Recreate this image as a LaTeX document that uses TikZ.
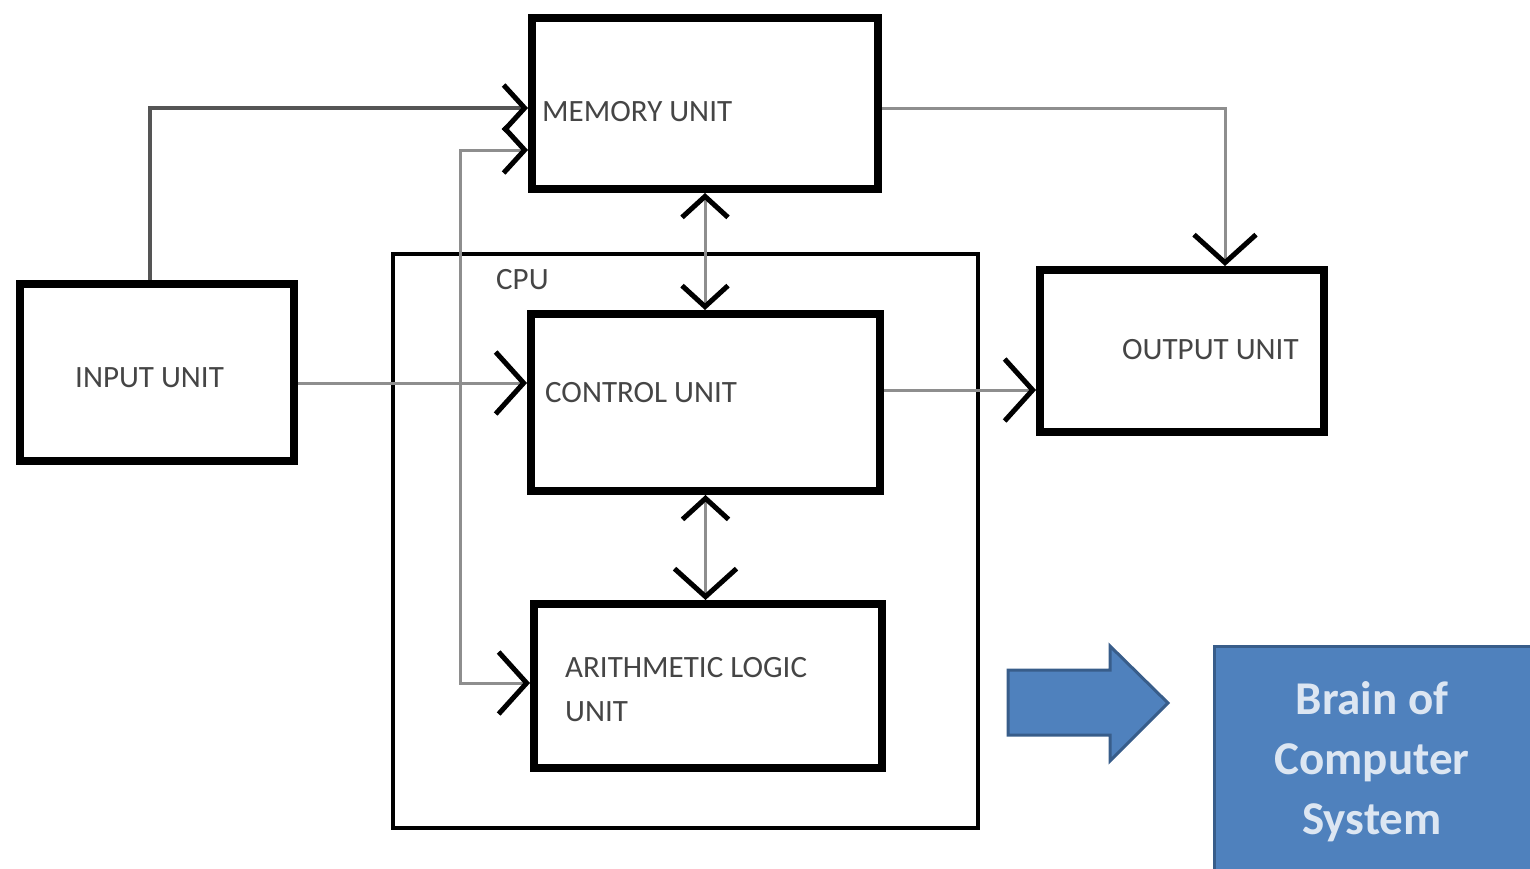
\documentclass[tikz,border=0pt]{standalone}
\usepackage{fontspec}
\setmainfont{Carlito}
\usetikzlibrary{arrows.meta}
\definecolor{lin}{HTML}{8E8E8E}
\definecolor{dlin}{HTML}{555555}
\definecolor{txt}{HTML}{454545}
\definecolor{bfill}{HTML}{4F81BD}
\definecolor{bdraw}{HTML}{385D8A}
\definecolor{btxt}{HTML}{DCE6F2}
\tikzset{
  unitbox/.style={draw=black, line width=8pt, minimum width=#1, inner sep=0pt},
  lbl/.style={anchor=west, inner sep=0pt, text=txt, font=\fontsize{31}{36}\selectfont},
  tip/.tip={Straight Barb[length=28pt, width=62pt, line width=5pt, color=black]},
  smalltip/.tip={Straight Barb[length=21pt, width=46pt, line width=5pt, color=black]},
  conn/.style={draw=lin, line width=3pt},
  dconn/.style={draw=dlin, line width=4pt},
}
\begin{document}
\begin{tikzpicture}[x=1pt, y=-1pt]
\useasboundingbox (0,0) rectangle (1530,868);
\clip (0,0) rectangle (1530,868);
% boxes
\node[draw=black, line width=4pt, minimum width=585pt, minimum height=574pt, inner sep=0pt] (cpu) at (685.5,541) {};
\node[unitbox=346pt, minimum height=171pt] (mem) at (705,103.5) {};
\node[unitbox=274pt, minimum height=177pt] (inp) at (157,372.5) {};
\node[unitbox=349pt, minimum height=177pt] (ctl) at (705.5,402.5) {};
\node[unitbox=348pt, minimum height=164pt] (alu) at (708,686) {};
\node[unitbox=284pt, minimum height=162pt] (out) at (1182,351) {};
% labels
\node[lbl] (memt) at (542,112) {MEMORY UNIT};
\node[lbl] (cput) at (496,280) {CPU};
\node[lbl] (inpt) at (75,378) {INPUT UNIT};
\node[lbl] (ctlt) at (545,393) {CONTROL UNIT};
\node[lbl] (outt) at (1122,350) {OUTPUT UNIT};
\node[lbl] (alut1) at (565,668) {ARITHMETIC LOGIC};
\node[lbl] (alut2) at (565,712) {UNIT};
% coordinates for routing
\coordinate (c1) at (150,108);
\coordinate (c2) at (460,150);
\coordinate (c3) at (460,683);
\coordinate (c4) at (0,383);
\coordinate (c5) at (1225,108);
\coordinate (c6) at (0,390);
% connectors
\draw[dconn, -smalltip] (inp.north -| c1) |- (mem.west |- c1);
\draw[conn, smalltip-tip] (mem.west |- c2) -- (c2) -- (c3) -- (alu.west |- c3);
\draw[conn, -tip] (inp.east |- c4) -- (ctl.west |- c4);
\draw[conn, -tip] (mem.east |- c5) -| (out.north -| c5);
\draw[conn, -tip] (ctl.east |- c6) -- (out.west |- c6);
\draw[conn, smalltip-smalltip] (mem.south) -- (ctl.north -| mem.south);
\draw[conn, smalltip-tip] (ctl.south) -- (alu.north -| ctl.south);
% blue arrow and box
\draw[fill=bfill, draw=bdraw, line width=3pt, line join=miter]
  (1008,670) -- (1110,670) -- (1110,646) -- (1168,703) -- (1110,761) -- (1110,735) -- (1008,735) -- cycle;
\node[fill=bfill, draw=bdraw, line width=3pt, minimum width=318pt, minimum height=224pt, inner sep=0pt] (brain) at (1373,758) {};
\node[align=center, text=btxt, inner sep=0pt, font=\fontsize{47}{60}\selectfont\bfseries] (braint) at (1372,762) {Brain of\\Computer\\System};
\end{tikzpicture}
\end{document}
